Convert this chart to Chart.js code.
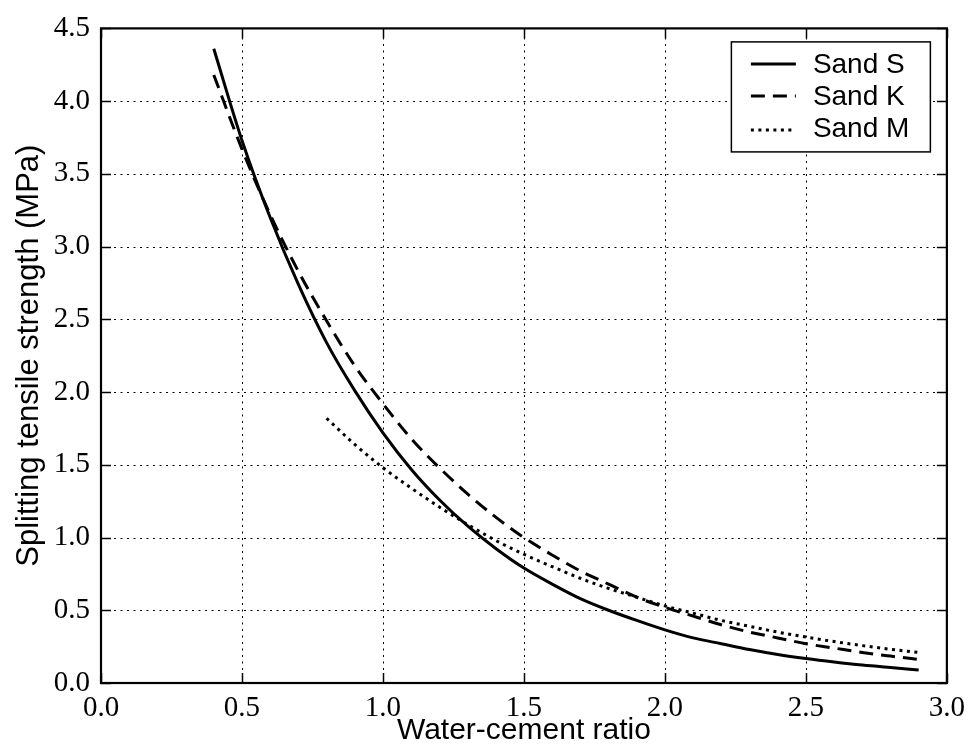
<!DOCTYPE html>
<html>
<head>
<meta charset="utf-8">
<script src="https://cdn.jsdelivr.net/npm/chart.js@4.4.1/dist/chart.umd.min.js"></script>
<style>
html,body{margin:0;padding:0;background:#fff;}
#wrap{width:973px;height:754px;position:relative;}
canvas{display:block;}
</style>
</head>
<body>
<div id="wrap"><canvas id="c" width="973" height="754"></canvas></div>
<script>
// ---- data ----
const ratiosSK = [0.4,0.5,0.6,0.7,0.8,0.9,1.0,1.1,1.2,1.3,1.4,1.5,1.6,1.7,1.8,1.9,2.0,2.1,2.2,2.3,2.4,2.5,2.6,2.7,2.8,2.9];
const sandS = [4.36,3.73,3.20,2.74,2.34,2.01,1.72,1.47,1.26,1.08,0.925,0.79,0.68,0.58,0.50,0.43,0.365,0.31,0.27,0.23,0.196,0.168,0.144,0.123,0.106,0.09];
const sandK = [4.18,3.67,3.22,2.83,2.49,2.18,1.92,1.68,1.48,1.30,1.14,1.00,0.88,0.77,0.68,0.59,0.52,0.46,0.40,0.35,0.31,0.27,0.24,0.21,0.185,0.162];
const ratiosM = [0.8,0.9,1.0,1.1,1.2,1.3,1.4,1.5,1.6,1.7,1.8,1.9,2.0,2.1,2.2,2.3,2.4,2.5,2.6,2.7,2.8,2.9];
const sandM = [1.82,1.64,1.48,1.34,1.21,1.09,0.98,0.885,0.80,0.72,0.65,0.59,0.53,0.48,0.43,0.39,0.35,0.316,0.285,0.257,0.232,0.21];
const seriesLabels = ['Sand S','Sand K','Sand M'];
const xTitle = 'Water-cement ratio';
const yTitle = 'Splitting tensile strength (MPa)';
const xMin = 0, xMax = 3.0, xStep = 0.5;
const yMin = 0, yMax = 4.5, yStep = 0.5;

const pts = (xs, ys) => xs.map((x, i) => ({x: x, y: ys[i]}));

const SERIF = "'Liberation Serif', 'Times New Roman', serif";
const SANS = "'Liberation Sans', Arial, sans-serif";

const framePlugin = {
  id: 'framePlugin',
  beforeDatasetsDraw(chart) {
    const {ctx, chartArea: a, scales: {x, y}} = chart;
    ctx.save();
    ctx.strokeStyle = '#000';
    ctx.lineWidth = 1;
    ctx.setLineDash([2, 4.5]);
    x.ticks.forEach(t => {
      if (t.value <= xMin || t.value >= xMax) return;
      const px = Math.round(x.getPixelForValue(t.value)) + 0.5;
      ctx.beginPath(); ctx.moveTo(px, a.bottom); ctx.lineTo(px, a.top); ctx.stroke();
    });
    y.ticks.forEach(t => {
      if (t.value <= yMin || t.value >= yMax) return;
      const py = Math.round(y.getPixelForValue(t.value)) + 0.5;
      ctx.beginPath(); ctx.moveTo(a.left, py); ctx.lineTo(a.right, py); ctx.stroke();
    });
    ctx.restore();
  },
  afterDraw(chart) {
    const {ctx, chartArea: a, scales: {x, y}} = chart;
    ctx.save();
    ctx.strokeStyle = '#000';
    ctx.setLineDash([]);
    // inward ticks on all four sides
    ctx.lineWidth = 1.5;
    const tl = 10;
    x.ticks.forEach(t => {
      const px = Math.round(x.getPixelForValue(t.value)) + 0.5;
      ctx.beginPath(); ctx.moveTo(px, a.bottom); ctx.lineTo(px, a.bottom - tl); ctx.stroke();
      ctx.beginPath(); ctx.moveTo(px, a.top); ctx.lineTo(px, a.top + tl); ctx.stroke();
    });
    y.ticks.forEach(t => {
      const py = Math.round(y.getPixelForValue(t.value)) + 0.5;
      ctx.beginPath(); ctx.moveTo(a.left, py); ctx.lineTo(a.left + tl, py); ctx.stroke();
      ctx.beginPath(); ctx.moveTo(a.right, py); ctx.lineTo(a.right - tl, py); ctx.stroke();
    });
    // frame
    ctx.lineWidth = 2.2;
    ctx.strokeRect(a.left, a.top, a.right - a.left, a.bottom - a.top);

    // legend box
    const bw = 199, bh = 110;
    const bx = a.right - 17 - bw, by = a.top + 13;
    ctx.fillStyle = '#fff';
    ctx.fillRect(bx, by, bw, bh);
    ctx.lineWidth = 1.5;
    ctx.strokeRect(bx + 0.5, by + 0.5, bw, bh);
    const rows = [22.5, 54.5, 86.5];
    ctx.font = '28px ' + SANS;
    ctx.textBaseline = 'middle';
    ctx.textAlign = 'left';
    chart.data.datasets.forEach((ds, i) => {
      const ry = by + rows[i];
      ctx.save();
      ctx.strokeStyle = ds.borderColor;
      ctx.lineWidth = ds.borderWidth;
      ctx.lineCap = 'butt';
      ctx.setLineDash(ds.borderDash || []);
      ctx.beginPath();
      ctx.moveTo(bx + 20, ry + (i === 2 ? 2 : 0));
      ctx.lineTo(bx + 65, ry + (i === 2 ? 2 : 0));
      ctx.stroke();
      ctx.restore();
      ctx.fillStyle = '#000';
      ctx.fillText(ds.label, bx + 82, ry + 1);
    });
    ctx.restore();
  }
};

new Chart(document.getElementById('c'), {
  type: 'line',
  data: {
    datasets: [
      {label: seriesLabels[0], data: pts(ratiosSK, sandS), borderColor: '#000', borderWidth: 3, borderDash: [], pointRadius: 0, fill: false, cubicInterpolationMode: 'monotone'},
      {label: seriesLabels[1], data: pts(ratiosSK, sandK), borderColor: '#000', borderWidth: 3, borderDash: [14, 8], pointRadius: 0, fill: false, cubicInterpolationMode: 'monotone'},
      {label: seriesLabels[2], data: pts(ratiosM, sandM), borderColor: '#000', borderWidth: 3, borderDash: [3, 4.5], pointRadius: 0, fill: false, cubicInterpolationMode: 'monotone'}
    ]
  },
  options: {
    responsive: false,
    animation: false,
    devicePixelRatio: 1,
    layout: {padding: {left: 0, top: 26, right: 24, bottom: 0}},
    plugins: {legend: {display: false}, tooltip: {enabled: false}},
    scales: {
      x: {
        type: 'linear', min: xMin, max: xMax,
        grid: {display: false, drawTicks: false},
        border: {display: false},
        ticks: {stepSize: xStep, padding: 8, color: '#000', font: {family: SERIF, size: 29}, callback: v => Number(v).toFixed(1)},
        title: {display: true, text: xTitle, color: '#000', font: {family: SANS, size: 30}, padding: {top: 0, bottom: 5}},
        afterFit: s => { s.height = 71; }
      },
      y: {
        type: 'linear', min: yMin, max: yMax,
        grid: {display: false, drawTicks: false},
        border: {display: false},
        ticks: {stepSize: yStep, padding: 11, color: '#000', font: {family: SERIF, size: 29}, callback: v => Number(v).toFixed(1)},
        title: {display: true, text: yTitle, color: '#000', font: {family: SANS, size: 31}, padding: {top: 11, bottom: 0}},
        afterFit: s => { s.width = 101; }
      }
    }
  },
  plugins: [framePlugin]
});
</script>
</body>
</html>
